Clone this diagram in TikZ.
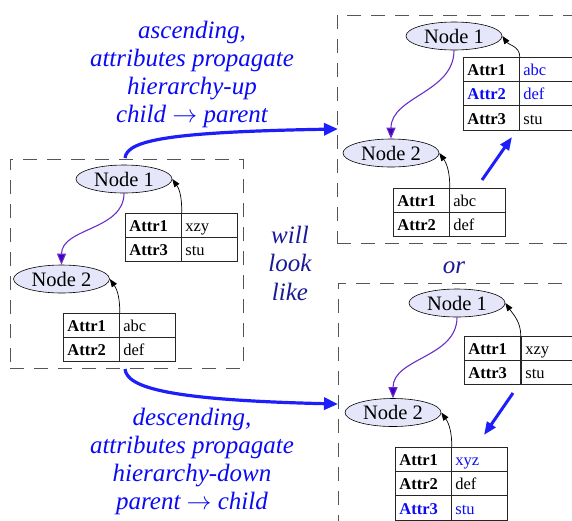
\documentclass[tikz,border=0pt]{standalone}
\usepackage{fontspec}
\setmainfont{Liberation Serif}
\usetikzlibrary{arrows.meta,shapes.geometric}

\definecolor{lav}{RGB}{230,230,250}
\definecolor{hiblue}{RGB}{10,10,245}
\definecolor{navyish}{RGB}{25,25,150}
\definecolor{edgepurple}{RGB}{105,45,200}
\definecolor{tippurple}{RGB}{65,0,190}
\definecolor{dashgrey}{RGB}{85,85,85}
\definecolor{flowblue}{RGB}{30,30,250}

\newcommand{\longto}{\ensuremath{\rightarrow}}

\tikzset{
  ent/.style={ellipse, draw=black, line width=0.6pt, fill=lav,
    minimum width=96pt, minimum height=28pt, inner sep=0pt,
    font=\fontsize{20.5}{24}\selectfont},
  kcell/.style={draw=black!85, line width=0.8pt, anchor=north west,
    minimum height=24.2pt, text width=48pt, inner xsep=4pt, inner ysep=0pt,
    text height=12.5pt, text depth=0pt, align=left,
    font=\fontsize{16.5}{19}\selectfont\bfseries},
  vcell/.style={kcell, font=\fontsize{16.5}{19}\selectfont},
  cluster/.style={draw=dashgrey, line width=0.9pt, dash pattern=on 14pt off 10pt,
    anchor=north west, inner sep=0pt},
  attredge/.style={draw=black, line width=0.7pt, -{Triangle[length=8pt,width=6pt]}},
  childedge/.style={draw=edgepurple, line width=1.1pt,
    -{Triangle[length=11pt,width=9pt,fill=tippurple]}},
  bigflow/.style={draw=flowblue, line width=3.2pt, -{Triangle[length=14pt,width=12pt]}},
  smallflow/.style={draw=flowblue, line width=3pt, -{Triangle[length=13pt,width=10pt]}},
  caption/.style={align=center, text=hiblue, inner sep=0pt,
    font=\fontsize{25}{28.2}\selectfont\itshape},
  joiner/.style={align=center, text=navyish, inner sep=0pt,
    font=\fontsize{25}{28.5}\selectfont\itshape},
}

\begin{document}
\begin{tikzpicture}[x=1pt,y=-1pt]
\useasboundingbox (0,0) rectangle (572,520);
\clip (0,0) rectangle (572,520);

% ---------- clusters ----------
\node[cluster, minimum width=233pt, minimum height=209pt] (lc) at (10,159) {};
\node[cluster, minimum width=270pt, minimum height=228pt] (tc) at (337,15) {};
\node[cluster, minimum width=270pt, minimum height=260pt] (bc) at (338,283) {};

% ---------- left: original hierarchy ----------
\node[ent] (ln1) at (124,179) {Node 1};
\node[ent] (ln2) at (61.5,279) {Node 2};

\node[kcell] (la1k) at (125,213)   {Attr1};
\node[vcell] (la1v) at (181,213)   {xzy};
\node[kcell] (la3k) at (125,237.2) {Attr3};
\node[vcell] (la3v) at (181,237.2) {stu};

\node[kcell] (lb1k) at (63,313)    {Attr1};
\node[vcell] (lb1v) at (119,313)   {abc};
\node[kcell] (lb2k) at (63,337.2)  {Attr2};
\node[vcell] (lb2v) at (119,337.2) {def};

\draw[childedge] (ln1.south) to[out=-90,in=90] (ln2.north);
\draw[attredge] (la1k.north east) to[out=90,in=-55] (ln1.east);
\draw[attredge] (lb1k.north east) to[out=90,in=-55] (ln2.east);

% ---------- top right: ascending result ----------
\node[ent] (tn1) at (454,36) {Node 1};
\node[ent] (tn2) at (391,153) {Node 2};

\node[kcell] (ta1k) at (463,57)    {Attr1};
\node[vcell, text=hiblue] (ta1v) at (519,57) {abc};
\node[kcell, text=hiblue] (ta2k) at (463,81.2) {Attr2};
\node[vcell, text=hiblue] (ta2v) at (519,81.2) {def};
\node[kcell] (ta3k) at (463,105.4) {Attr3};
\node[vcell] (ta3v) at (519,105.4) {stu};

\node[kcell] (tb1k) at (393,188)   {Attr1};
\node[vcell] (tb1v) at (449,188)   {abc};
\node[kcell] (tb2k) at (393,212.2) {Attr2};
\node[vcell] (tb2v) at (449,212.2) {def};

\draw[childedge] (tn1.south) to[out=-90,in=90] (tn2.north);
\draw[attredge] (ta1k.north east) to[out=90,in=-55] (tn1.east);
\draw[attredge] (tb1k.north east) to[out=90,in=-55] (tn2.east);

\coordinate (upfrom) at (482,180);
\coordinate (upto) at (512,137);
\draw[smallflow] (upfrom) -- (upto);

% ---------- bottom right: descending result ----------
\node[ent] (bn1) at (457,303) {Node 1};
\node[ent] (bn2) at (393,412.5) {Node 2};

\node[kcell] (ba1k) at (464,336)   {Attr1};
\node[vcell] (ba1v) at (521,336)   {xzy};
\node[kcell] (ba3k) at (464,360.2) {Attr3};
\node[vcell] (ba3v) at (521,360.2) {stu};

\node[kcell] (bb1k) at (395,447)   {Attr1};
\node[vcell, text=hiblue] (bb1v) at (451,447) {xyz};
\node[kcell] (bb2k) at (395,471.2) {Attr2};
\node[vcell] (bb2v) at (451,471.2) {def};
\node[kcell, text=hiblue] (bb3k) at (395,495.4) {Attr3};
\node[vcell, text=hiblue] (bb3v) at (451,495.4) {stu};

\draw[childedge] (bn1.south) to[out=-90,in=90] (bn2.north);
\draw[attredge] (ba1k.north east) to[out=90,in=-55] (bn1.east);
\draw[attredge] (bb1k.north east) to[out=90,in=-55] (bn2.east);

\coordinate (downfrom) at (513,393);
\coordinate (downto) at (484,435);
\draw[smallflow] (downfrom) -- (downto);

% ---------- flows between clusters ----------
\coordinate (ascstart) at (125,158);
\coordinate (ascend) at (338,129);
\draw[bigflow] (ascstart) .. controls (127,140) and (170,132) .. (ascend);

\coordinate (descstart) at (125,369);
\coordinate (descend) at (338,404);
\draw[bigflow] (descstart) .. controls (127,388) and (170,400) .. (descend);

% ---------- captions ----------
\node[caption] (asc) at (192,74.5)
  {ascending,\\attributes propagate\\hierarchy-up\\child \longto{} parent};
\node[caption] (desc) at (192,461.5)
  {descending,\\attributes propagate\\hierarchy-down\\parent \longto{} child};
\node[joiner] (will) at (290,263) {will\\look\\like};
\node[joiner, anchor=base] (orword) at (454,273) {or};
\end{tikzpicture}
\end{document}
